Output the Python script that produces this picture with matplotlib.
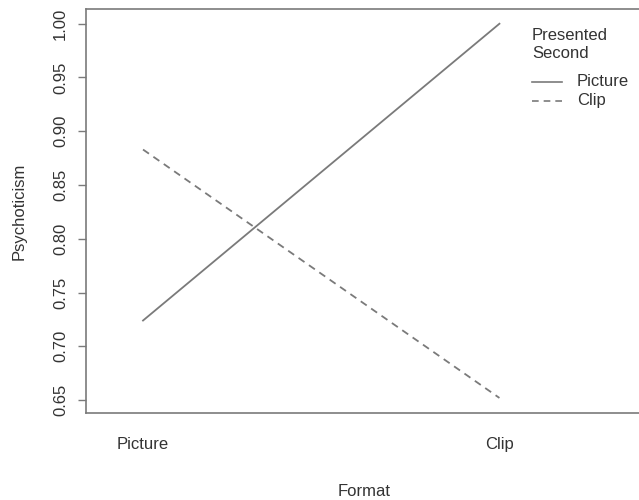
import matplotlib.pyplot as plt

plt.rcParams['font.family'] = ['Liberation Sans', 'DejaVu Sans']

# Data
formats = ['Picture', 'Clip']
second_picture = [0.724, 1.000]
second_clip = [0.883, 0.652]

grey = '#7a7a7a'
text_c = '#333333'
fs = 12

fig = plt.figure(figsize=(6.39, 5.0), dpi=100)
ax = fig.add_axes([86 / 639, 87 / 500, 556 / 639, 404 / 500])

x = [1, 2]
ax.plot(x, second_picture, color=grey, lw=1.3, linestyle='-')
ax.plot(x, second_clip, color=grey, lw=1.3, linestyle=(0, (4, 3)))

ax.set_xlim(0.84, 2.40)
ax.set_ylim(0.638, 1.0137)

ax.set_xticks(x)
ax.set_xticklabels(formats)
ax.tick_params(axis='x', length=0, pad=17, labelsize=fs, labelcolor=text_c)
ax.set_yticks([0.65, 0.70, 0.75, 0.80, 0.85, 0.90, 0.95, 1.00])
ax.set_yticklabels(['0.65', '0.70', '0.75', '0.80', '0.85', '0.90', '0.95', '1.00'],
                   rotation=90, va='center')
ax.tick_params(axis='y', length=6, width=1, color=grey, pad=7, labelsize=fs, labelcolor=text_c)

for s in ['left', 'top', 'bottom']:
    ax.spines[s].set_color(grey)
    ax.spines[s].set_linewidth(1.2)
ax.spines['right'].set_visible(False)

ax.set_xlabel('Format', fontsize=fs, color=text_c, labelpad=23)
ax.set_ylabel('Psychoticism', fontsize=fs, color=text_c, labelpad=19)

# legend
fig.text(532 / 639, 1 - 35 / 500, 'Presented', fontsize=fs, color=text_c, va='center')
fig.text(532 / 639, 1 - 53 / 500, 'Second', fontsize=fs, color=text_c, va='center')
fig.add_artist(plt.Line2D([532 / 639, 562 / 639], [1 - 82 / 500, 1 - 82 / 500],
                          color=grey, lw=1.2, linestyle='-'))
fig.add_artist(plt.Line2D([532 / 639, 562 / 639], [1 - 101 / 500, 1 - 101 / 500],
                          color=grey, lw=1.2, linestyle=(0, (4, 3))))
fig.text(577 / 639, 1 - 82 / 500, 'Picture', fontsize=fs, color=text_c, va='center')
fig.text(577 / 639, 1 - 101 / 500, 'Clip', fontsize=fs, color=text_c, va='center')

plt.savefig('out.png', dpi=100)
